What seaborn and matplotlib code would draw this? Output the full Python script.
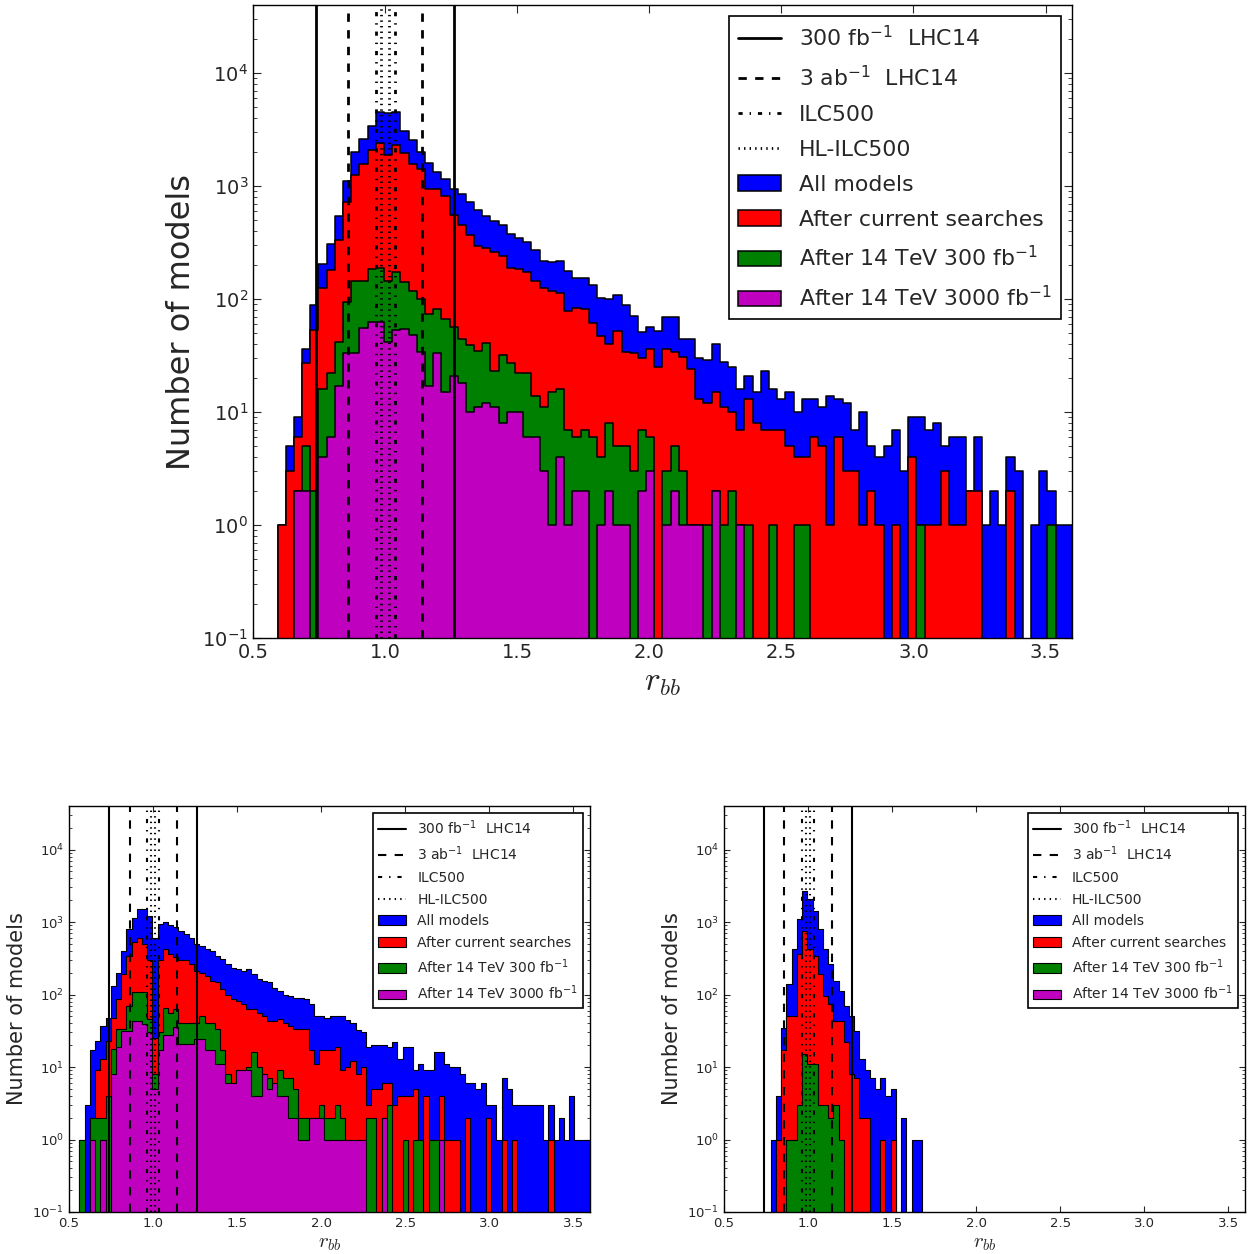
import numpy as np
import pandas as pd
import matplotlib
matplotlib.use("Agg")
import matplotlib.pyplot as plt
import seaborn as sns
from matplotlib.lines import Line2D

# r_bb histogram bins (100 bins of width 0.031 between 0.5 and 3.6)
bin_edges = np.linspace(0.5, 3.6, 101)
bin_centers = (bin_edges[:-1] + bin_edges[1:]) / 2

series_names = ["All models", "After current searches",
                r"After 14 TeV 300 fb$^{-1}$", r"After 14 TeV 3000 fb$^{-1}$"]
series_colors = ["#0000ff", "#ff0000", "#008000", "#bf00bf"]

# precision bands (lower, upper) on r_bb
band_labels = [r"300 fb$^{-1}$  LHC14", r"3 ab$^{-1}$  LHC14", "ILC500", "HL-ILC500"]
band_edges = [(0.74, 1.26), (0.86, 1.14), (0.964, 1.036), (0.986, 1.014)]
band_styles = ["-", (0, (6, 6)), (0, (3, 5, 1, 5)), (0, (1, 3))]

# ---- top panel counts ----
top_all = [0, 0, 0, 1, 5, 9, 36, 89, 205, 310,
           540, 1100, 2000, 2600, 3400, 4500, 4400, 4500, 3100, 2550,
           2000, 1600, 1330, 1150, 940, 850, 720, 620, 540, 490,
           450, 380, 350, 320, 270, 217, 213, 217, 178, 154,
           152, 133, 103, 100, 109, 88, 71, 51, 56, 52,
           69, 69, 44, 44, 30, 29, 40, 28, 25, 16,
           21, 15, 23, 16, 13, 15, 10, 13, 13, 11,
           14, 13, 12, 7, 10, 5, 4, 5, 7, 3,
           9, 9, 7, 8, 5, 6, 6, 2, 6, 1,
           2, 1, 4, 3, 0, 1, 3, 2, 1, 1]
top_current = [0, 0, 0, 1, 3, 6, 27, 53, 125, 180,
               330, 720, 1260, 1580, 2070, 2400, 1900, 2300, 1950, 1560,
               1410, 940, 940, 820, 550, 450, 370, 295, 285, 260,
               240, 190, 186, 172, 145, 126, 118, 114, 79, 84,
               82, 62, 47, 40, 52, 34, 33, 30, 36, 25,
               36, 34, 31, 24, 13, 12, 15, 11, 10, 7,
               13, 8, 7, 7, 7, 5, 4, 4, 6, 5,
               1, 6, 3, 3, 1, 2, 1, 0, 1, 0,
               4, 1, 1, 1, 3, 1, 1, 2, 2, 0,
               0, 0, 2, 0, 0, 0, 0, 0, 0, 0]
top_300 = [0, 0, 0, 0, 0, 2, 5, 2, 16, 22,
           42, 95, 145, 145, 185, 190, 145, 175, 142, 118,
           100, 73, 81, 67, 56, 44, 39, 35, 41, 23,
           32, 27, 22, 22, 14, 11, 15, 16, 7, 6,
           7, 6, 4, 8, 5, 5, 3, 7, 6, 0,
           3, 5, 3, 1, 1, 1, 2, 1, 2, 1,
           1, 0, 0, 1, 0, 0, 1, 1, 0, 0,
           0, 0, 0, 0, 0, 0, 0, 0, 0, 0,
           0, 1, 0, 0, 0, 0, 0, 0, 0, 0,
           0, 0, 0, 0, 0, 0, 0, 1, 0, 0]
top_3000 = [0, 0, 0, 0, 0, 2, 2, 0, 4, 6,
            17, 33, 33, 55, 63, 63, 42, 53, 54, 48,
            34, 17, 33, 15, 21, 18, 10, 11, 12, 11,
            8, 10, 10, 6, 6, 3, 1, 4, 1, 2,
            2, 0, 1, 2, 1, 1, 0, 2, 3, 0,
            1, 2, 1, 1, 1, 0, 2, 0, 0, 1,
            0, 0, 0, 0, 0, 0, 0, 0, 0, 0,
            0, 0, 0, 0, 0, 0, 0, 0, 0, 0,
            0, 0, 0, 0, 0, 0, 0, 0, 0, 0,
            0, 0, 0, 0, 0, 0, 0, 0, 0, 0]

# ---- bottom left panel counts ----
bl_all = [0, 0, 1, 3, 17, 23, 37, 48, 132, 200,
          400, 800, 1150, 1500, 1500, 1230, 600, 940, 1000, 910,
          850, 760, 680, 610, 500, 470, 425, 400, 340, 310,
          263, 235, 225, 213, 225, 190, 163, 154, 147, 125,
          112, 98, 94, 91, 91, 86, 74, 51, 50, 48,
          50, 50, 50, 45, 40, 32, 30, 19, 20, 20,
          20, 19, 22, 13, 19, 19, 9, 11, 9, 9,
          16, 16, 11, 10, 10, 8, 6, 6, 5, 6,
          3, 3, 1, 7, 5, 3, 3, 3, 3, 3,
          3, 1, 3, 1, 2, 1, 4, 1, 1, 1]
bl_current = [0, 0, 0, 0, 2, 9, 13, 23, 48, 86,
              190, 340, 525, 610, 500, 295, 25, 295, 425, 360,
              325, 300, 295, 263, 213, 200, 180, 154, 147, 118,
              98, 86, 82, 74, 63, 63, 56, 51, 43, 43,
              46, 41, 37, 33, 33, 33, 17, 11, 17, 17,
              17, 19, 9, 10, 12, 8, 10, 3, 5, 5,
              6, 6, 3, 4, 4, 4, 5, 1, 4, 1,
              1, 4, 1, 1, 1, 0, 2, 0, 0, 0,
              2, 0, 0, 1, 0, 1, 0, 0, 0, 0,
              0, 0, 1, 0, 0, 0, 0, 0, 0, 0]
bl_300 = [0, 0, 1, 0, 2, 2, 2, 4, 18, 33,
          33, 69, 107, 107, 107, 46, 8, 30, 66, 56,
          63, 41, 41, 41, 41, 51, 41, 41, 33, 17,
          8, 6, 9, 9, 10, 16, 10, 8, 7, 6,
          9, 7, 7, 5, 2, 2, 2, 2, 3, 2,
          2, 3, 2, 1, 1, 1, 1, 2, 2, 0,
          2, 3, 0, 0, 1, 0, 1, 1, 0, 1,
          1, 1, 0, 0, 0, 0, 0, 0, 0, 0,
          0, 0, 0, 0, 0, 0, 0, 0, 0, 0,
          0, 0, 0, 0, 0, 0, 0, 0, 0, 0]
bl_3000 = [0, 0, 0, 0, 1, 0, 1, 0, 8, 19,
           31, 31, 43, 43, 39, 30, 5, 17, 28, 28,
           36, 21, 21, 21, 24, 24, 17, 17, 11, 11,
           6, 6, 9, 9, 9, 4, 4, 8, 5, 6,
           4, 4, 2, 2, 1, 1, 2, 2, 2, 1,
           1, 1, 1, 1, 1, 1, 1, 0, 0, 0,
           2, 0, 0, 0, 0, 0, 0, 0, 0, 0,
           0, 1, 0, 0, 0, 0, 0, 0, 0, 0,
           0, 0, 0, 0, 0, 0, 0, 0, 0, 0,
           0, 0, 0, 0, 0, 0, 0, 0, 0, 0]

# ---- bottom right panel counts ----
br_all = [0, 0, 0, 0, 0, 0, 0, 0, 0, 1,
          4, 35, 138, 430, 1100, 2700, 2100, 1440, 800, 430,
          262, 154, 112, 70, 51, 31, 13, 9, 7, 5,
          7, 4, 5, 0, 2, 0, 1, 1, 0, 0,
          0, 0, 0, 0, 0, 0, 0, 0, 0, 0,
          0, 0, 0, 0, 0, 0, 0, 0, 0, 0,
          0, 0, 0, 0, 0, 0, 0, 0, 0, 0,
          0, 0, 0, 0, 0, 0, 0, 0, 0, 0,
          0, 0, 0, 0, 0, 0, 0, 0, 0, 0,
          0, 0, 0, 0, 0, 0, 0, 0, 0, 0]
br_current = [0, 0, 0, 0, 0, 0, 0, 0, 0, 0,
              1, 17, 51, 51, 360, 760, 425, 340, 190, 96,
              73, 43, 43, 22, 8, 7, 2, 2, 0, 0,
              1, 0, 1, 0, 0, 0, 0, 0, 0, 0,
              0, 0, 0, 0, 0, 0, 0, 0, 0, 0,
              0, 0, 0, 0, 0, 0, 0, 0, 0, 0,
              0, 0, 0, 0, 0, 0, 0, 0, 0, 0,
              0, 0, 0, 0, 0, 0, 0, 0, 0, 0,
              0, 0, 0, 0, 0, 0, 0, 0, 0, 0,
              0, 0, 0, 0, 0, 0, 0, 0, 0, 0]
br_300 = [0, 0, 0, 0, 0, 0, 0, 0, 0, 0,
          0, 0, 1, 1, 3, 15, 11, 11, 3, 3,
          2, 3, 1, 0, 0, 0, 0, 0, 0, 0,
          0, 0, 0, 0, 0, 0, 0, 0, 0, 0,
          0, 0, 0, 0, 0, 0, 0, 0, 0, 0,
          0, 0, 0, 0, 0, 0, 0, 0, 0, 0,
          0, 0, 0, 0, 0, 0, 0, 0, 0, 0,
          0, 0, 0, 0, 0, 0, 0, 0, 0, 0,
          0, 0, 0, 0, 0, 0, 0, 0, 0, 0,
          0, 0, 0, 0, 0, 0, 0, 0, 0, 0]
br_3000 = [0, 0, 0, 0, 0, 0, 0, 0, 0, 0,
           0, 0, 0, 0, 0, 0, 0, 0, 0, 0,
           0, 0, 0, 0, 0, 0, 0, 0, 0, 0,
           0, 0, 0, 0, 0, 0, 0, 0, 0, 0,
           0, 0, 0, 0, 0, 0, 0, 0, 0, 0,
           0, 0, 0, 0, 0, 0, 0, 0, 0, 0,
           0, 0, 0, 0, 0, 0, 0, 0, 0, 0,
           0, 0, 0, 0, 0, 0, 0, 0, 0, 0,
           0, 0, 0, 0, 0, 0, 0, 0, 0, 0,
           0, 0, 0, 0, 0, 0, 0, 0, 0, 0]

sns.set_style("ticks", {"xtick.direction": "in", "ytick.direction": "in",
                        "xtick.top": True, "ytick.right": True,
                        "axes.edgecolor": "black"})
plt.rcParams["font.family"] = ["DejaVu Sans"]
plt.rcParams["lines.scale_dashes"] = False

fig = plt.figure(figsize=(12.51, 12.54), dpi=100)

panels = [
    dict(rect=[0.2022, 0.4912, 0.6547, 0.5048],
         counts=[top_all, top_current, top_300, top_3000],
         tick=14, ylab=23, xlab=24, leg=15.8, lspace=0.68, lw=2.0, elw=1.1, tlen=6),
    dict(rect=[0.0552, 0.0335, 0.4165, 0.3238],
         counts=[bl_all, bl_current, bl_300, bl_3000],
         tick=9.5, ylab=15, xlab=15, leg=10, lspace=0.55, lw=1.5, elw=0.8, tlen=4),
    dict(rect=[0.5787, 0.0335, 0.4165, 0.3238],
         counts=[br_all, br_current, br_300, br_3000],
         tick=9.5, ylab=15, xlab=15, leg=10, lspace=0.55, lw=1.5, elw=0.8, tlen=4),
]

for p in panels:
    ax = fig.add_axes(p["rect"])
    fills = []
    for name, color, vals in zip(series_names, series_colors, p["counts"]):
        df = pd.DataFrame({"rbb": bin_centers, "count": vals})
        n_before = len(ax.collections)
        sns.histplot(data=df, x="rbb", weights="count", bins=list(bin_edges),
                     element="step", fill=True, color=color, alpha=1,
                     edgecolor="black", linewidth=p["elw"], ax=ax)
        fills.append(ax.collections[n_before])
    ax.set_yscale("log")
    for (lo, hi), ls in zip(band_edges, band_styles):
        for xv in (lo, hi):
            ax.axvline(xv, color="black", ls=ls, lw=p["lw"], zorder=5)
    ax.set_xlim(0.5, 3.6)
    ax.set_ylim(0.1, 4e4)
    ax.set_xticks([0.5, 1.0, 1.5, 2.0, 2.5, 3.0, 3.5])
    ax.set_xlabel(r"$r_{bb}$", fontsize=p["xlab"], math_fontfamily="cm", labelpad=2)
    ax.set_ylabel("Number of models", fontsize=p["ylab"])
    ax.tick_params(axis="both", which="major", labelsize=p["tick"], length=p["tlen"],
                   direction="in", top=True, right=True)
    ax.tick_params(axis="y", which="minor", length=p["tlen"] / 2, direction="in", right=True)
    for sp in ax.spines.values():
        sp.set_linewidth(1.0)
        sp.set_color("black")

    line_handles = [Line2D([], [], color="black", ls=ls, lw=p["lw"]) for ls in band_styles]
    leg = ax.legend(line_handles + fills, band_labels + series_names, loc="upper right",
                    fontsize=p["leg"], frameon=True, fancybox=False, framealpha=1,
                    edgecolor="black", labelspacing=p["lspace"], handlelength=2.0,
                    borderaxespad=0.5)
    leg.get_frame().set_linewidth(1.2)
    leg.set_zorder(10)

fig.savefig("out.png", dpi=100)
